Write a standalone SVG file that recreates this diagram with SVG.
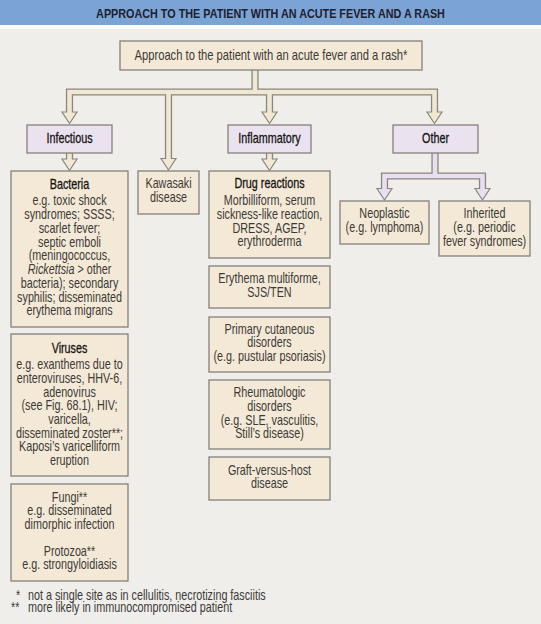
<svg xmlns="http://www.w3.org/2000/svg" width="541" height="624" viewBox="0 0 541 624">
<style>
.t{font-family:"Liberation Sans",Arial,sans-serif;font-size:14px;fill:#3b3a38;text-anchor:middle}
.h{fill:#151515;stroke:#151515;stroke-width:0.3}
.box{fill:#f4e9d6;stroke:#84807a;stroke-width:1.3}
.cat{fill:#ebe2ef;stroke:#84807a;stroke-width:1.3}
.bo{fill:none;stroke:#8a867c;stroke-width:7.2}
.bi{fill:none;stroke:#f1e8d3;stroke-width:4.6}
.li{fill:none;stroke:#e8dff0;stroke-width:4.6}
.ah{fill:#f1e8d3;stroke:#8a867c;stroke-width:1.2}
.al{fill:#e8dff0;stroke:#8a867c;stroke-width:1.2}
.fn{font-family:"Liberation Sans",Arial,sans-serif;font-size:14px;fill:#3b3a38}
</style>
<rect x="0" y="0" width="541" height="624" fill="#f0eeea"/>
<rect x="0" y="0" width="541" height="25" fill="#7ba3d3"/>
<rect x="0" y="25" width="541" height="4" fill="#ffffff"/>
<g transform="translate(270.5,0) scale(0.8,1)"><text x="0" y="18" font-family="'Liberation Sans',Arial,sans-serif" font-size="13.5" font-weight="bold" fill="#1c2030" text-anchor="middle">APPROACH TO THE PATIENT WITH AN ACUTE FEVER AND A RASH</text></g>

<g id="root"><rect class="box" x="120" y="41" width="302" height="29"/><g transform="translate(271,0) scale(0.8,1)"><text class="t" x="0" y="60.5">Approach to the patient with an acute fever and a rash*</text></g></g>
<g id="infectious"><rect class="cat" x="27" y="125" width="85" height="28"/><g transform="translate(69.5,0) scale(0.77,1)"><text class="t h" x="0" y="143.5">Infectious</text></g></g>
<g id="inflammatory"><rect class="cat" x="228" y="125" width="83" height="28"/><g transform="translate(269.5,0) scale(0.77,1)"><text class="t h" x="0" y="143.5">Inflammatory</text></g></g>
<g id="other"><rect class="cat" x="393" y="125" width="85" height="28"/><g transform="translate(435.5,0) scale(0.77,1)"><text class="t h" x="0" y="143.5">Other</text></g></g>

<g id="bacteria"><rect class="box" x="11" y="171" width="117" height="156"/>
<g transform="translate(69.5,0) scale(0.77,1)">
<text class="t h" x="0" y="188.7">Bacteria</text>
<text class="t" x="0" y="205">e.g. toxic shock</text>
<text class="t" x="0" y="219">syndromes; SSSS;</text>
<text class="t" x="0" y="233">scarlet fever;</text>
<text class="t" x="0" y="246.7">septic emboli</text>
<text class="t" x="0" y="260.5">(meningococcus,</text>
<text class="t" x="0" y="274.3"><tspan font-style="italic">Rickettsia</tspan> &gt; other</text>
<text class="t" x="0" y="288">bacteria); secondary</text>
<text class="t" x="0" y="301.7">syphilis; disseminated</text>
<text class="t" x="0" y="315.5">erythema migrans</text></g></g>

<g id="viruses"><rect class="box" x="11" y="334" width="117" height="142"/>
<g transform="translate(69.5,0) scale(0.77,1)">
<text class="t h" x="0" y="352.7">Viruses</text>
<text class="t" x="0" y="369.3">e.g. exanthems due to</text>
<text class="t" x="0" y="383">enteroviruses, HHV-6,</text>
<text class="t" x="0" y="396.7">adenovirus</text>
<text class="t" x="0" y="410.4">(see Fig. 68.1), HIV;</text>
<text class="t" x="0" y="424.1">varicella,</text>
<text class="t" x="0" y="437.8">disseminated zoster**;</text>
<text class="t" x="0" y="451.5">Kaposi’s varicelliform</text>
<text class="t" x="0" y="465.4">eruption</text></g></g>

<g id="fungi"><rect class="box" x="11" y="484" width="117" height="97"/>
<g transform="translate(69.5,0) scale(0.77,1)">
<text class="t" x="0" y="501.7">Fungi**</text>
<text class="t" x="0" y="515.5">e.g. disseminated</text>
<text class="t" x="0" y="529.2">dimorphic infection</text>
<text class="t" x="0" y="555.7">Protozoa**</text>
<text class="t" x="0" y="569.4">e.g. strongyloidiasis</text></g></g>

<g id="kawasaki"><rect class="box" x="138" y="171" width="61" height="43"/>
<g transform="translate(168.5,0) scale(0.77,1)">
<text class="t" x="0" y="188.3">Kawasaki</text>
<text class="t" x="0" y="202.2">disease</text></g></g>

<g id="drug"><rect class="box" x="209" y="171" width="121" height="87"/>
<g transform="translate(269.5,0) scale(0.77,1)">
<text class="t h" x="0" y="188.5">Drug reactions</text>
<text class="t" x="0" y="205">Morbilliform, serum</text>
<text class="t" x="0" y="218.8">sickness-like reaction,</text>
<text class="t" x="0" y="232.6">DRESS, AGEP,</text>
<text class="t" x="0" y="246.4">erythroderma</text></g></g>

<g id="em"><rect class="box" x="209" y="266" width="121" height="42"/>
<g transform="translate(269.5,0) scale(0.77,1)">
<text class="t" x="0" y="283.3">Erythema multiforme,</text>
<text class="t" x="0" y="297">SJS/TEN</text></g></g>

<g id="primary"><rect class="box" x="209" y="317" width="121" height="55"/>
<g transform="translate(269.5,0) scale(0.77,1)">
<text class="t" x="0" y="334.3">Primary cutaneous</text>
<text class="t" x="0" y="347.5">disorders</text>
<text class="t" x="0" y="361">(e.g. pustular psoriasis)</text></g></g>

<g id="rheum"><rect class="box" x="209" y="380" width="121" height="69"/>
<g transform="translate(269.5,0) scale(0.77,1)">
<text class="t" x="0" y="397.3">Rheumatologic</text>
<text class="t" x="0" y="411">disorders</text>
<text class="t" x="0" y="424.7">(e.g. SLE, vasculitis,</text>
<text class="t" x="0" y="438.3">Still’s disease)</text></g></g>

<g id="gvhd"><rect class="box" x="209" y="457" width="121" height="43"/>
<g transform="translate(269.5,0) scale(0.77,1)">
<text class="t" x="0" y="475">Graft-versus-host</text>
<text class="t" x="0" y="488.5">disease</text></g></g>

<g id="neoplastic"><rect class="box" x="340" y="201" width="89" height="43"/>
<g transform="translate(384.5,0) scale(0.77,1)">
<text class="t" x="0" y="218.3">Neoplastic</text>
<text class="t" x="0" y="232.2">(e.g. lymphoma)</text></g></g>

<g id="inherited"><rect class="box" x="439" y="201" width="91" height="55"/>
<g transform="translate(484.5,0) scale(0.77,1)">
<text class="t" x="0" y="218.3">Inherited</text>
<text class="t" x="0" y="232">(e.g. periodic</text>
<text class="t" x="0" y="245.7">fever syndromes)</text></g></g>

<g id="connectors">
<path class="bo" d="M255,70 V92 M69.5,113 V92 H434.5 V113 M168.5,92 V159 M269.5,92 V113 M69.5,153 V159.5 M269.5,153 V159.5"/>
<path class="bo" d="M435,153 V176 M384.5,189 V176 H482.5 V189"/>
<polygon class="ah" points="62,112 77,112 69.5,123.5"/>
<polygon class="ah" points="262,112 277,112 269.5,123.5"/>
<polygon class="ah" points="427,112 442,112 434.5,123.5"/>
<polygon class="ah" points="161,158.5 176,158.5 168.5,170"/>
<polygon class="ah" points="62,159 77,159 69.5,170.5"/>
<polygon class="ah" points="262,159 277,159 269.5,170.5"/>
<polygon class="al" points="377,188.5 392,188.5 384.5,200"/>
<polygon class="al" points="475,188.5 490,188.5 482.5,200"/>
<path class="bi" d="M255,70.8 V92 M69.5,114 V92 H434.5 V114 M168.5,92 V160 M269.5,92 V114 M69.5,153.8 V160.5 M269.5,153.8 V160.5"/>
<path class="li" d="M435,153.8 V176 M384.5,190 V176 H482.5 V190"/>
</g>

<g transform="translate(16,0) scale(0.77,1)"><text class="fn" x="0" y="600">*</text></g>
<g transform="translate(28,0) scale(0.77,1)"><text class="fn" x="0" y="600">not a single site as in cellulitis, necrotizing fasciitis</text></g>
<g transform="translate(11,0) scale(0.77,1)"><text class="fn" x="0" y="612.5">**</text></g>
<g transform="translate(28,0) scale(0.77,1)"><text class="fn" x="0" y="612.5">more likely in immunocompromised patient</text></g>
</svg>
